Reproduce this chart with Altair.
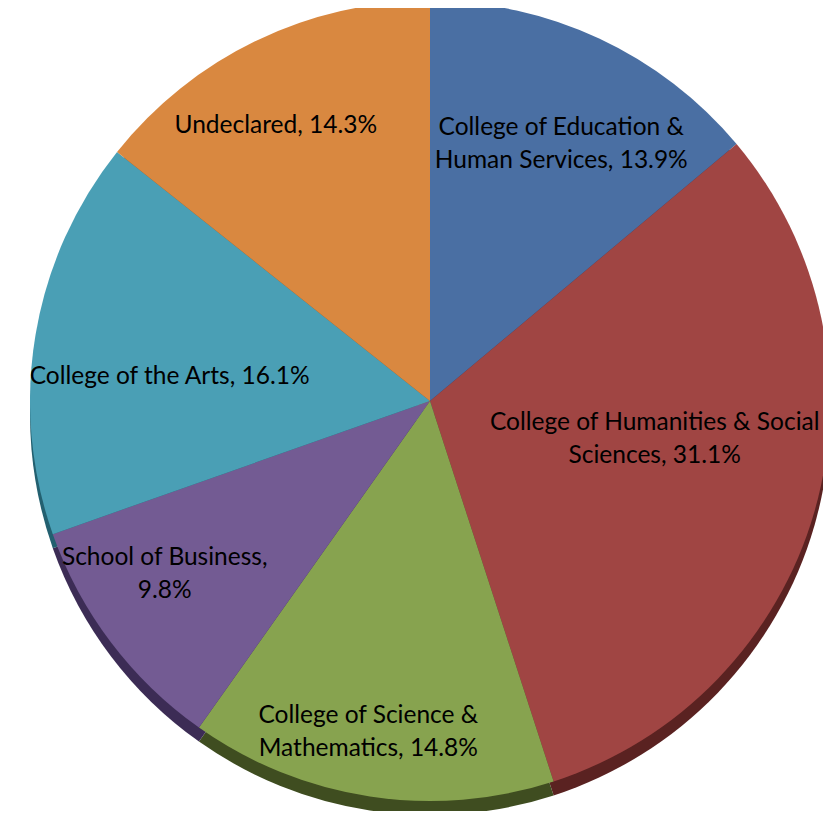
import altair as alt
import pandas as pd

categories = [
    "College of Education & Human Services",
    "College of Humanities & Social Sciences",
    "College of Science & Mathematics",
    "School of Business",
    "College of the Arts",
    "Undeclared",
]
labels = [
    "College of Education &\nHuman Services, 13.9%",
    "College of Humanities & Social\nSciences, 31.1%",
    "College of Science &\nMathematics, 14.8%",
    "School of Business,\n9.8%",
    "College of the Arts, 16.1%",
    "Undeclared, 14.3%",
]
values = [13.9, 31.1, 14.8, 9.8, 16.1, 14.3]
colors = ["#4A6FA3", "#A04543", "#87A34F", "#735B93", "#4A9FB5", "#D98840"]
shadow_colors = ["#2A4066", "#5A2221", "#3F4D20", "#3C2C55", "#236070", "#8A5020"]

# label placement (style): radius from centre and a small nudge
label_radius = [282, 240, 344, 320, 262, 309]
label_dx = [12, -6, -10, -10, -2, -20]
label_dy = [-17, -44, -25, -36, 19, 3]

df = pd.DataFrame({
    "category": categories,
    "label": labels,
    "value": values,
    "idx": list(range(len(categories))),
})

R = 400
CX, CY = 422, 393

theta = alt.Theta("value:Q", stack=True)
order = alt.Order("idx:Q", sort="ascending")

shadow = alt.Chart(df).mark_arc(radius=R).encode(
    theta=theta,
    order=order,
    fill=alt.Fill("category:N", sort=categories,
                  scale=alt.Scale(domain=categories, range=shadow_colors), legend=None),
    x=alt.value(CX),
    y=alt.value(CY + 14),
)

pie = alt.Chart(df).mark_arc(radius=R).encode(
    theta=theta,
    order=order,
    color=alt.Color("category:N", sort=categories,
                    scale=alt.Scale(domain=categories, range=colors), legend=None),
    x=alt.value(CX),
    y=alt.value(CY),
)

text_layers = []
for cat, r, ddx, ddy in zip(categories, label_radius, label_dx, label_dy):
    text_layers.append(
        alt.Chart(df).mark_text(
            radius=r, dx=ddx, dy=ddy, font="Lato", fontSize=24.5, color="black",
            align="center", baseline="middle", lineBreak="\n", lineHeight=33,
        ).encode(
            theta=theta,
            order=order,
            text=alt.condition(alt.datum.category == cat, "label:N", alt.value("")),
            x=alt.value(CX),
            y=alt.value(CY),
        )
    )

chart = alt.layer(shadow, pie, *text_layers).resolve_scale(
    color="independent", fill="independent"
).properties(
    width=815, height=803, padding=0,
    autosize=alt.AutoSizeParams(type="none"),
).configure_view(stroke=None)

chart.save("out.html", embed_options={"renderer": "svg", "actions": False})
